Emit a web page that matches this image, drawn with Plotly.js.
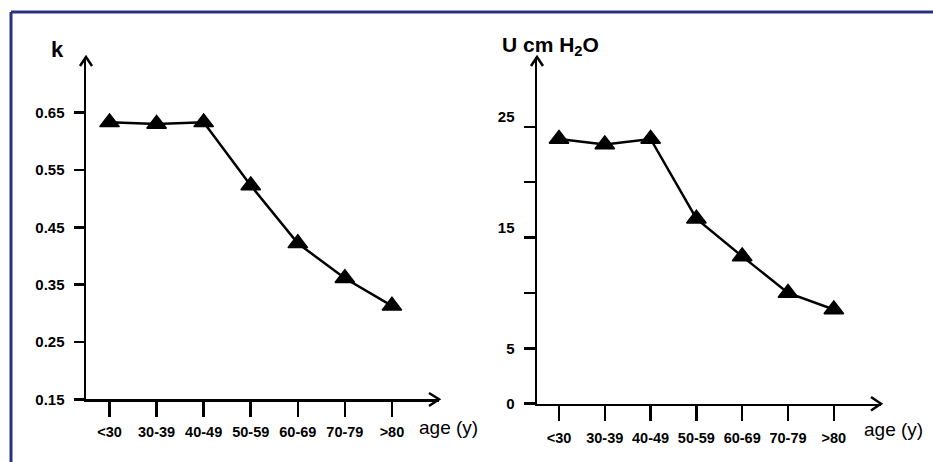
<!DOCTYPE html>
<html>
<head>
<meta charset="utf-8">
<script src="https://cdn.plot.ly/plotly-3.0.1.min.js"></script>
<style>html,body{margin:0;padding:0;background:#fff;}#chart{width:933px;height:462px;}</style>
</head>
<body>
<div id="chart"></div>
<script>
// ---- data ----
const ageGroups = ['<30', '30-39', '40-49', '50-59', '60-69', '70-79', '>80'];
const kValues = [0.633, 0.630, 0.633, 0.523, 0.422, 0.361, 0.313];
const uValues = [23.9, 23.4, 23.9, 16.7, 13.3, 10.0, 8.5];
const kTickVals = [0.15, 0.25, 0.35, 0.45, 0.55, 0.65];
const uTickVals = [0, 5, 15, 25];
const uTickText = ['0', '5', '15<br>\u00a0', '25<br>\u00a0'];
const uMinorTickVals = [10, 20];
const leftTitle = 'k';
const rightTitle = 'U cm H<sub>2</sub>O';
const xTitle = 'age (y)';

const W = 933, H = 462;
const px = x => x / W;
const py = y => 1 - y / H;
const FONT = 'Arial, "Liberation Sans", sans-serif';
const NAVY = '#2a3280';

function chevron(pts) {
  return 'M' + pts.map(p => px(p[0]) + ',' + py(p[1])).join(' L');
}
function lineShape(path) {
  return {type: 'path', xref: 'paper', yref: 'paper', path: path,
          line: {color: '#000', width: 2.5}};
}

const markerStyle = {symbol: 'triangle-up', size: 17, color: '#000', line: {color: '#000', width: 1.5}};

const traces = [
  {x: ageGroups, y: kValues, xaxis: 'x', yaxis: 'y', type: 'scatter', mode: 'lines+markers',
   line: {color: '#000', width: 2.5}, marker: markerStyle, showlegend: false, cliponaxis: false},
  {x: ageGroups, y: uValues, xaxis: 'x2', yaxis: 'y2', type: 'scatter', mode: 'lines+markers',
   line: {color: '#000', width: 2.5}, marker: markerStyle, showlegend: false, cliponaxis: false}
];

const yTickFont = {family: FONT, size: 15, color: '#000', weight: 'bold'};
const xTickFont = {family: FONT, size: 14.5, color: '#000', weight: 'bold'};
const axisCommon = {showgrid: false, zeroline: false, showline: true, linecolor: '#000', linewidth: 2.5,
                    ticks: 'outside', tickcolor: '#000', tickwidth: 2.5, fixedrange: true};

const layout = {
  width: W, height: H,
  margin: {l: 0, r: 0, t: 0, b: 0},
  paper_bgcolor: '#fff', plot_bgcolor: 'rgba(0,0,0,0)',
  showlegend: false,
  xaxis: Object.assign({}, axisCommon, {domain: [px(86), px(439)], type: 'category', range: [-0.5, 7],
          anchor: 'y', ticklen: 15, ticklabelstandoff: 3, tickfont: xTickFont}),
  yaxis: Object.assign({}, axisCommon, {domain: [py(399.3), py(57)], range: [0.15, 0.747],
          anchor: 'x', tickvals: kTickVals, tickformat: '.2f', ticklen: 10, ticklabelstandoff: 6, tickfont: yTickFont}),
  xaxis2: Object.assign({}, axisCommon, {domain: [px(537), px(881)], type: 'category', range: [-0.48, 7.03],
          anchor: 'y2', ticklen: 15, ticklabelstandoff: 4, tickfont: xTickFont}),
  yaxis2: Object.assign({}, axisCommon, {domain: [py(403.7), py(57)], range: [0, 31.3],
          anchor: 'x2', tickvals: uTickVals, ticktext: uTickText, ticklen: 11, ticklabelstandoff: 6, tickfont: yTickFont,
          minor: {tickvals: uMinorTickVals, ticks: 'outside', ticklen: 11, tickwidth: 2.5, tickcolor: '#000', showgrid: false}}),
  shapes: [
    // frame (top and left edges)
    {type: 'line', xref: 'paper', yref: 'paper', x0: px(11), x1: 1, y0: py(12), y1: py(12), line: {color: NAVY, width: 3}},
    {type: 'line', xref: 'paper', yref: 'paper', x0: px(11), x1: px(11), y0: py(12), y1: 0, line: {color: NAVY, width: 3}},
    // arrowheads
    lineShape(chevron([[80, 66], [86, 57], [92, 66]])),
    lineShape(chevron([[429, 393], [439, 399.3], [429, 406]])),
    lineShape(chevron([[531, 66], [537, 57], [543, 66]])),
    lineShape(chevron([[871, 397], [881, 403.7], [871, 410.5]]))
  ],
  annotations: [
    {xref: 'paper', yref: 'paper', x: px(57), y: py(49), text: '<b>' + leftTitle + '</b>', showarrow: false,
     xanchor: 'center', yanchor: 'middle', font: {family: FONT, size: 22, color: '#000'}},
    {xref: 'paper', yref: 'paper', x: px(550), y: py(46), text: '<b>' + rightTitle + '</b>', showarrow: false,
     xanchor: 'center', yanchor: 'middle', font: {family: FONT, size: 21, color: '#000'}},
    {xref: 'paper', yref: 'paper', x: px(417), y: py(427), text: xTitle, showarrow: false,
     xanchor: 'left', yanchor: 'middle', font: {family: FONT, size: 19, color: '#000'}},
    {xref: 'paper', yref: 'paper', x: px(862), y: py(429), text: xTitle, showarrow: false,
     xanchor: 'left', yanchor: 'middle', font: {family: FONT, size: 19, color: '#000'}}
  ]
};

Plotly.newPlot('chart', traces, layout, {displayModeBar: false, staticPlot: true});
</script>
</body>
</html>
